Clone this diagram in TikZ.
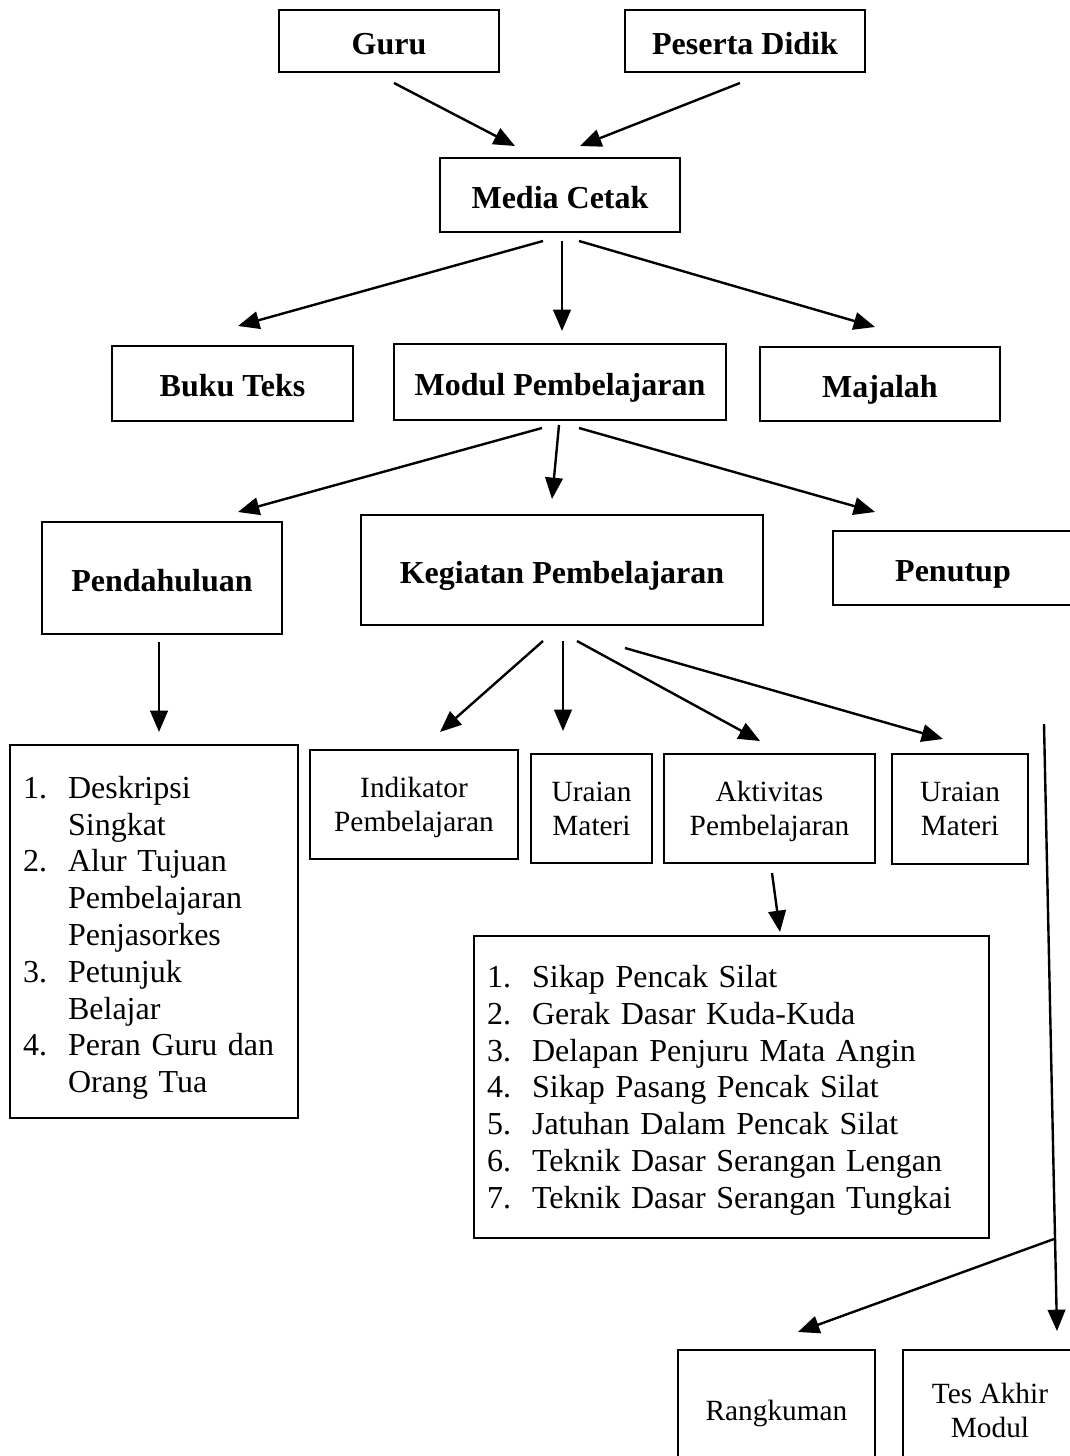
\documentclass[tikz,border=0pt]{standalone}
\usepackage{fontspec}
\setmainfont{Liberation Serif}
\usetikzlibrary{arrows.meta}
\newcommand{\hurufisi}{\fontsize{12}{13.8}\selectfont}
\newcommand{\hurufkecil}{\fontsize{11}{12.65}\selectfont}

\begin{document}
\begin{tikzpicture}[x=0.375pt,y=-0.375pt,
		kotak/.style 2 args={draw,line width=0.75pt,inner sep=0pt,minimum width=#1*0.375pt,minimum height=#2*0.375pt,align=center,font=\hurufkecil,text depth=0pt},
		judul/.style 2 args={kotak={#1}{#2},font=\hurufisi\bfseries,text height=12pt,text depth=1.9pt},
		daftar/.style={draw,line width=0.75pt,inner xsep=4.875pt,inner ysep=0pt,align=left,font=\hurufisi},
		panah/.style={line width=0.9pt,-{Triangle[length=8pt,width=6.6pt]}}]
				\useasboundingbox (0,0) rectangle (1070,1456);
				\clip (0,0) rectangle (1070,1456);
				\node[judul={220}{62}] (guru) at (389,41) {Guru};
				\node[judul={240}{62}] (peserta) at (745,41) {Peserta Didik};
				\node[judul={240}{74}] (media) at (560,195) {Media Cetak};
				\node[judul={241}{75}] (buku) at (232.5,383.5) {Buku Teks};
				\node[judul={332}{76}] (modul) at (560,382) {Modul Pembelajaran};
				\node[judul={240}{74}] (majalah) at (880,384) {Majalah};
				\node[judul={240}{112}] (pendahuluan) at (162,578) {Pendahuluan};
				\node[judul={402}{110}] (kegiatan) at (562,570) {Kegiatan Pembelajaran};
				\node[judul={240}{74}] (penutup) at (953,568) {Penutup};
				\node[kotak={208}{109}] (indikator) at (414,804.5) {Indikator\\Pembelajaran};
				\node[kotak={121}{109}] (uraian1) at (591.5,808.5) {Uraian\\Materi};
				\node[kotak={211}{109}] (aktivitas) at (769.5,808.5) {Aktivitas\\Pembelajaran};
				\node[kotak={136}{110}] (uraian2) at (960,809) {Uraian\\Materi};
				\node[daftar,minimum width=108pt,minimum height=139.875pt,text width=98.25pt] (isiawal) at (154,931.5) {%
					\vspace*{-5pt}%
					\begin{tabular}{@{}p{16.9pt}@{}l@{}}
						1. & Deskripsi\\ & Singkat\\
						2. & Alur Tujuan\\ & Pembelajaran\\ & Penjasorkes\\
						3. & Petunjuk\\ & Belajar\\
						4. & Peran Guru dan\\ & Orang Tua
					\end{tabular}};
				\node[daftar,minimum width=193.125pt,minimum height=113.25pt,text width=183.375pt] (isikegiatan) at (731.5,1087) {%
					\vspace*{-2.6pt}%
					\begin{tabular}{@{}p{16.9pt}@{}l@{}}
						1. & Sikap Pencak Silat\\
						2. & Gerak Dasar Kuda-Kuda\\
						3. & Delapan Penjuru Mata Angin\\
						4. & Sikap Pasang Pencak Silat\\
						5. & Jatuhan Dalam Pencak Silat\\
						6. & Teknik Dasar Serangan Lengan\\
						7. & Teknik Dasar Serangan Tungkai
					\end{tabular}};
				\node[kotak={197}{120}] (rangkuman) at (776.5,1410) {Rangkuman};
				\node[kotak={174}{120}] (tes) at (990,1410) {Tes Akhir\\Modul};
				\coordinate (atas) at (1044,724);
				\coordinate (cabang) at (1054,1239);
				\draw[panah] ([shift={(5,10)}]guru.south) -- ([shift={(-45,-11)}]media.north);
				\draw[panah] ([shift={(-5,10)}]peserta.south) -- ([shift={(20,-11)}]media.north);
				\draw[panah] ([shift={(-17,8)}]media.south) -- ([shift={(5.5,-19)}]buku.north);
				\draw[panah] ([shift={(2,8)}]media.south) -- ([shift={(2,-12)}]modul.north);
				\draw[panah] ([shift={(19,8)}]media.south) -- ([shift={(-5,-19)}]majalah.north);
				\draw[panah] ([shift={(-18,7)}]modul.south) -- ([shift={(76,-9)}]pendahuluan.north);
				\draw[panah] ([shift={(-1,4)}]modul.south) -- ([shift={(-10,-15)}]kegiatan.north);
				\draw[panah] ([shift={(19,7)}]modul.south) -- ([shift={(-78,-18)}]penutup.north);
				\draw[panah] ([shift={(-3,7)}]pendahuluan.south) -- ([shift={(5,-12)}]isiawal.north);
				\draw[panah] ([shift={(-19,15)}]kegiatan.south) -- ([shift={(26,-17)}]indikator.north);
				\draw[panah] ([shift={(1,15)}]kegiatan.south) -- ([shift={(-28.5,-22)}]uraian1.north);
				\draw[panah] ([shift={(15,15)}]kegiatan.south) -- ([shift={(-9.5,-12)}]aktivitas.north);
				\draw[panah] ([shift={(63,22)}]kegiatan.south) -- ([shift={(-17,-14)}]uraian2.north);
				\draw[panah] ([shift={(2.5,9)}]aktivitas.south) -- ([shift={(48.5,-3)}]isikegiatan.north);
				\draw[panah] (atas) -- ([shift={(67,-18)}]tes.north);
				\draw[panah] (cabang) -- ([shift={(21.5,-17)}]rangkuman.north);
			\end{tikzpicture}
\end{document}
